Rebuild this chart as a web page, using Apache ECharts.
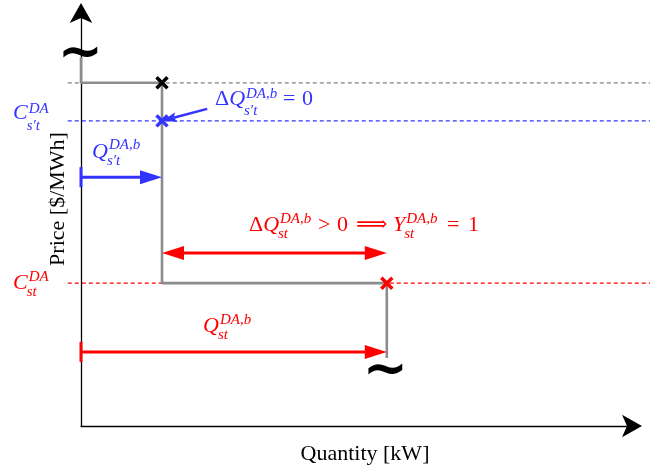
<!DOCTYPE html>
<html>
<head>
<meta charset="utf-8">
<script src="https://cdn.jsdelivr.net/npm/echarts@6/dist/echarts.min.js"></script>
<style>
  html, body { margin: 0; padding: 0; background: #fff; }
  #chart { width: 650px; height: 471px; }
</style>
</head>
<body>
<div id="chart"></div>
<script>
// quantities / prices (axis units 0..10)
const qBlue = 1.47;
const qRed = 5.55;
const priceTop = 8.29;
const priceBlue = 7.37;
const priceRed = 3.45;

// bid curve (step), broken at both ends
const stepX = [0, 0, qBlue, qBlue, qRed, qRed];
const stepY = [8.91, priceTop, priceTop, priceRed, priceRed, 1.64];

// crosses on the curve
const markX = [qBlue, qBlue, qRed];
const markY = [priceTop, priceBlue, priceRed];

// dashed reference prices run slightly left of the axis to the right edge
const refX = [-0.24, 10.33];

// arrows: [x1, y1, x2, y2]
const arrowQBlue = [0, 6.01, qBlue, 6.01];
const arrowDeltaBlue = [2.29, 7.66, qBlue, priceBlue];
const arrowDeltaRed = [qBlue, 4.18, qRed, 4.18];
const arrowQRed = [0, 1.79, qRed, 1.79];

const BLUE = '#3333ff';
const RED = '#ff0000';
const GRAY = '#8c8c8c';
const SERIF = '"Liberation Serif", "DejaVu Serif", serif';

const chart = echarts.init(document.getElementById('chart'));

// measure text with the same canvas font zrender will use
const ctx = document.createElement('canvas').getContext('2d');
const measure = (t, font) => { ctx.font = font; return ctx.measureText(t).width; };

const txt = (t, x, baseY, size, italic, color) => ({
  type: 'text',
  x: x,
  y: baseY - 0.34 * size,
  silent: true,
  style: {
    text: t,
    font: (italic ? 'italic ' : '') + size + 'px ' + SERIF,
    fill: color,
    textAlign: 'left',
    textVerticalAlign: 'middle'
  }
});

// tiny math typesetter: base glyph with stacked sup/sub
function mathLabel(x, baseY, tokens, color, F) {
  const S = Math.round(F * 0.68);
  const children = [];
  let cx = x;
  tokens.forEach(tok => {
    if (tok.at !== undefined) cx = tok.at;
    const font = (tok.it ? 'italic ' : '') + F + 'px ' + SERIF;
    children.push(txt(tok.t, cx, baseY, F, tok.it, color));
    cx += measure(tok.t, font);
    if (tok.sup || tok.sub) {
      const sf = 'italic ' + S + 'px ' + SERIF;
      let w = 0;
      if (tok.sup) {
        children.push(txt(tok.sup, cx + 1, baseY - (tok.up || 0.4) * F, S, true, color));
        w = measure(tok.sup, sf) + 1;
      }
      if (tok.sub) {
        children.push(txt(tok.sub, cx - 1, baseY + (tok.down || 0.3) * F, S, true, color));
        w = Math.max(w, measure(tok.sub, sf) - 1);
      }
      cx += w + 2;
    }
  });
  return { type: 'group', silent: true, children: children };
}

function arrowSeries(name, seg, color, opt) {
  return {
    type: 'custom',
    name: name,
    coordinateSystem: 'cartesian2d',
    clip: false,
    silent: true,
    z: 5,
    data: [seg],
    renderItem: (params, api) => {
      const p1 = api.coord([api.value(0), api.value(1)]);
      const p2 = api.coord([api.value(2), api.value(3)]);
      const dx = p2[0] - p1[0], dy = p2[1] - p1[1];
      const len = Math.hypot(dx, dy);
      const ux = dx / len, uy = dy / len;
      const nx = -uy, ny = ux;
      const L = opt.len, W = opt.wid / 2;
      const head = (tip, sx, sy) => ({
        type: 'polygon',
        shape: { points: [
          tip,
          [tip[0] - sx * L + nx * W, tip[1] - sy * L + ny * W],
          [tip[0] - sx * L * (1 - opt.notch), tip[1] - sy * L * (1 - opt.notch)],
          [tip[0] - sx * L - nx * W, tip[1] - sy * L - ny * W]
        ] },
        style: { fill: color }
      });
      const s0 = opt.both ? L * 0.8 : 0;
      const kids = [{
        type: 'line',
        shape: {
          x1: p1[0] + ux * s0, y1: p1[1] + uy * s0,
          x2: p2[0] - ux * L * 0.8, y2: p2[1] - uy * L * 0.8
        },
        style: { stroke: color, lineWidth: opt.width }
      }, head(p2, ux, uy)];
      if (opt.both) kids.push(head(p1, -ux, -uy));
      if (opt.bar) {
        kids.push({
          type: 'line',
          shape: { x1: p1[0] + nx * 10, y1: p1[1] + ny * 10, x2: p1[0] - nx * 10, y2: p1[1] - ny * 10 },
          style: { stroke: color, lineWidth: 3 }
        });
      }
      return { type: 'group', children: kids };
    }
  };
}

// dashed price level, drawn past the plot area on both sides
function refLine(price, color) {
  return {
    type: 'custom',
    coordinateSystem: 'cartesian2d',
    clip: false,
    silent: true,
    z: 1,
    data: [[refX[0], price, refX[1], price]],
    renderItem: (params, api) => {
      const a = api.coord([api.value(0), api.value(1)]);
      const b = api.coord([api.value(2), api.value(3)]);
      return {
        type: 'line',
        shape: { x1: a[0], y1: a[1], x2: b[0], y2: b[1] },
        style: { stroke: color, lineWidth: 1.2, lineDash: [4, 3] }
      };
    }
  };
}

const axisCommon = (offset) => ({
  type: 'value',
  min: 0,
  max: 10,
  axisLine: {
    show: true,
    symbol: ['none', 'arrow'],
    symbolSize: [17, 20],
    symbolOffset: [0, offset],
    lineStyle: { color: '#000', width: 1.3 }
  },
  axisTick: { show: false },
  axisLabel: { show: false },
  splitLine: { show: false }
});

const markColors = ['#000', BLUE, RED];

const option = {
  backgroundColor: '#fff',
  animation: false,
  grid: { left: 81, right: 18, top: 12, bottom: 45 },
  xAxis: axisCommon(10),
  yAxis: axisCommon(9),
  series: [
    refLine(priceTop, '#808080'),
    refLine(priceBlue, BLUE),
    refLine(priceRed, RED),
    {
      type: 'line',
      data: stepX.map((x, i) => [x, stepY[i]]),
      symbol: 'none',
      silent: true,
      z: 3,
      lineStyle: { color: GRAY, width: 2.6 }
    },
    {
      type: 'scatter',
      data: markX.map((x, i) => ({
        value: [x, markY[i]],
        itemStyle: { borderColor: markColors[i] }
      })),
      symbol: 'path://M0,0L10,10M10,0L0,10',
      symbolSize: 11,
      silent: true,
      z: 6,
      itemStyle: { color: 'transparent', borderWidth: 3.5, opacity: 1 }
    },
    arrowSeries('Q blue', arrowQBlue, BLUE, { len: 22, wid: 14, notch: 0, width: 3, bar: true }),
    arrowSeries('dQ blue', arrowDeltaBlue, BLUE, { len: 15, wid: 10, notch: 0.2, width: 2.5 }),
    arrowSeries('dQ red', arrowDeltaRed, RED, { len: 22, wid: 14, notch: 0, width: 3, both: true }),
    arrowSeries('Q red', arrowQRed, RED, { len: 22, wid: 14, notch: 0, width: 3, bar: true })
  ],
  graphic: [
    // axis titles
    {
      type: 'text', x: 58, y: 199, rotation: Math.PI / 2, silent: true,
      style: { text: 'Price [$/MWh]', font: '22px ' + SERIF, fill: '#000', textAlign: 'center', textVerticalAlign: 'middle' }
    },
    {
      type: 'text', x: 365, y: 454, silent: true,
      style: { text: 'Quantity [kW]', font: '22px ' + SERIF, fill: '#000', textAlign: 'center', textVerticalAlign: 'middle' }
    },
    // axis breaks
    {
      type: 'text', x: 80, y: 55, silent: true,
      style: { text: '∼', font: 'bold 54px "DejaVu Sans"', fill: '#000', textAlign: 'center', textVerticalAlign: 'middle' }
    },
    {
      type: 'text', x: 385, y: 372, silent: true,
      style: { text: '∼', font: 'bold 54px "DejaVu Sans"', fill: '#000', textAlign: 'center', textVerticalAlign: 'middle' }
    },
    mathLabel(13, 121, [{ t: 'C', it: true, sup: 'DA', sub: 's′t', up: 0.3, down: 0.45 }], BLUE, 22),
    mathLabel(92, 160, [{ t: 'Q', it: true, sup: 'DA,b', sub: 's′t', up: 0.45, down: 0.3 }], BLUE, 22),
    mathLabel(215, 107, [
      { t: 'Δ' },
      { t: 'Q', it: true, sup: 'DA,b', sub: 's′t', up: 0.35, down: 0.4 },
      { t: '=', at: 283 },
      { t: '0', at: 302 }
    ], BLUE, 22),
    mathLabel(249, 233, [
      { t: 'Δ' },
      { t: 'Q', it: true, sup: 'DA,b', sub: 'st' },
      { t: '>', at: 318 },
      { t: '0', at: 337 },
      { t: '⟹', at: 356 },
      { t: 'Y', it: true, sup: 'DA,b', sub: 'st', at: 393 },
      { t: '=', at: 447 },
      { t: '1', at: 468 }
    ], RED, 22),
    mathLabel(13, 291, [{ t: 'C', it: true, sup: 'DA', sub: 'st' }], RED, 22),
    mathLabel(203, 334, [{ t: 'Q', it: true, sup: 'DA,b', sub: 'st' }], RED, 22)
  ]
};

chart.setOption(option);
</script>
</body>
</html>
